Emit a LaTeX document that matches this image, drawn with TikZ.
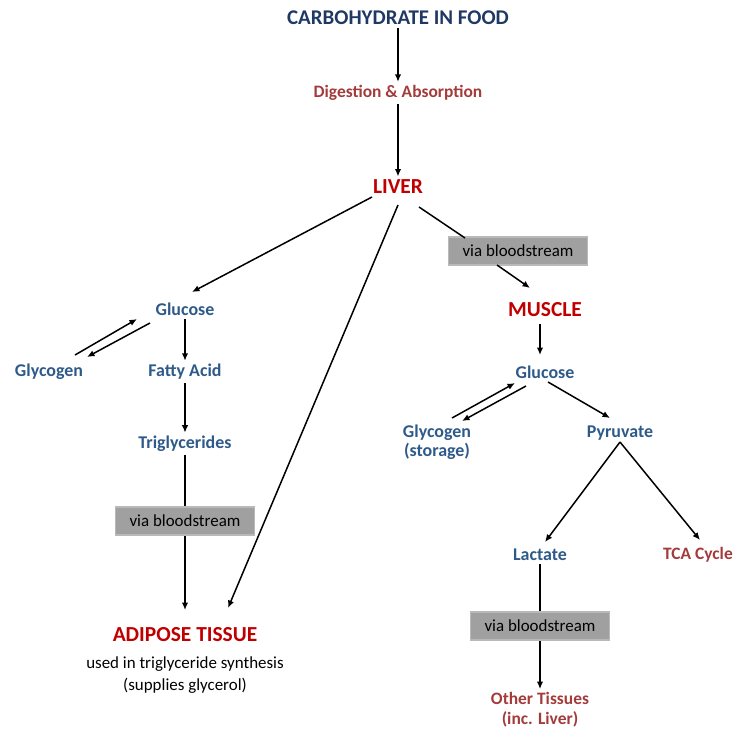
\documentclass[tikz,border=0pt]{standalone}
\usepackage{fontspec}
\setmainfont{Carlito}
\usetikzlibrary{arrows.meta}
\usepackage{xcolor}
\definecolor{navyblue}{HTML}{1F3864}
\definecolor{organred}{HTML}{C00000}
\definecolor{steprd}{HTML}{A33B3B}
\definecolor{metblue}{HTML}{2E5A8A}
\definecolor{boxgray}{HTML}{A0A0A0}

\begin{document}
\begin{tikzpicture}[x=1bp,y=-1bp,
  font=\fontsize{17}{20}\selectfont,
  title/.style={text=navyblue, font=\fontsize{21}{24}\selectfont\bfseries},
  organ/.style={text=organred, font=\fontsize{21.5}{24}\selectfont\bfseries},
  stepnode/.style={text=steprd, font=\fontsize{17.5}{20}\selectfont\bfseries, align=center},
  metab/.style={text=metblue, font=\fontsize{18}{19}\selectfont\bfseries, align=center},
  blood/.style={fill=boxgray, draw=gray!55, line width=1.5bp, minimum width=139bp, minimum height=28bp, inner sep=2bp},
  arr/.style={-{Latex[length=7.5bp,width=6.5bp]}, line width=1.5bp},
  link/.style={line width=1.5bp}]
\useasboundingbox (0,0) rectangle (733,729);
%% main column: food down to the liver
\node[title] (food) at (398,18) {CARBOHYDRATE IN FOOD};
\node[stepnode] (digest) at (398,93) {Digestion \& Absorption};
\node[organ] (liver) at (398,187) {LIVER};
\draw[arr] (food) -- (digest);
\draw[arr] (digest) -- (liver);
%% left branch (liver to adipose tissue)
\node[metab] (glucL) at (185,309) {Glucose};
\node[metab] (glycL) at (49,372) {Glycogen};
\node[metab] (fatty) at (185,372) {Fatty Acid};
\node[metab] (trig) at (185,444) {Triglycerides};
\node[blood] (bloodL) at (185,521) {via bloodstream};
\node[organ] (adipose) at (185,635) {ADIPOSE TISSUE};
\node[align=center, font=\fontsize{17}{22}\selectfont] (adinfo) at (185,675) {used in triglyceride synthesis\\(supplies glycerol)};
\draw[arr] ([shift={(-26,10)}]liver.center) -- ([shift={(7,-17)}]glucL.center);
\draw[arr] ([shift={(0,18)}]liver.center) -- ([shift={(43,-27)}]adipose.center);
\draw[arr] ([shift={(26,-17)}]glycL.center) -- ([shift={(-48,10)}]glucL.center);
\draw[arr] ([shift={(-35,14)}]glucL.center) -- ([shift={(38,-15)}]glycL.center);
\draw[arr] (glucL) -- (fatty);
\draw[arr] (fatty) -- (trig);
\draw[link] (trig) -- (bloodL);
\draw[arr] (bloodL) -- ([shift={(0,-25)}]adipose.center);
%% right branch (liver to muscle and beyond)
\node[blood] (bloodM) at (518,251) {via bloodstream};
\node[organ] (muscle) at (545,310) {MUSCLE};
\node[metab] (glucR) at (545,372) {Glucose};
\node[metab] (glycR) at (437,442) {Glycogen\\(storage)};
\node[metab] (pyr) at (620,433) {Pyruvate};
\node[metab] (lact) at (540,555) {Lactate};
\node[stepnode] (tca) at (698,555) {TCA Cycle};
\node[blood] (bloodO) at (540,626) {via bloodstream};
\node[stepnode] (other) at (540,710) {Other Tissues\\(inc. Liver)};
\draw[link] ([shift={(21,20)}]liver.center) -- ([shift={(-53,-13)}]bloodM.center);
\draw[arr] ([shift={(-21,14)}]bloodM.center) -- ([shift={(-15,-22)}]muscle.center);
\draw[arr] ([shift={(-5,14)}]muscle.center) -- ([shift={(-5,-17)}]glucR.center);
\draw[arr] ([shift={(15,-24)}]glycR.center) -- ([shift={(-30,11)}]glucR.center);
\draw[arr] ([shift={(-19,14)}]glucR.center) -- ([shift={(25,-21)}]glycR.center);
\draw[arr] ([shift={(3,10)}]glucR.center) -- ([shift={(-10,-15)}]pyr.center);
\draw[arr] ([shift={(0,9)}]pyr.center) -- ([shift={(5,-13)}]lact.center);
\draw[arr] ([shift={(0,9)}]pyr.center) -- ([shift={(2,-15)}]tca.center);
\draw[link] (lact) -- (bloodO);
\draw[arr] (bloodO) -- (other);
\end{tikzpicture}
\end{document}
